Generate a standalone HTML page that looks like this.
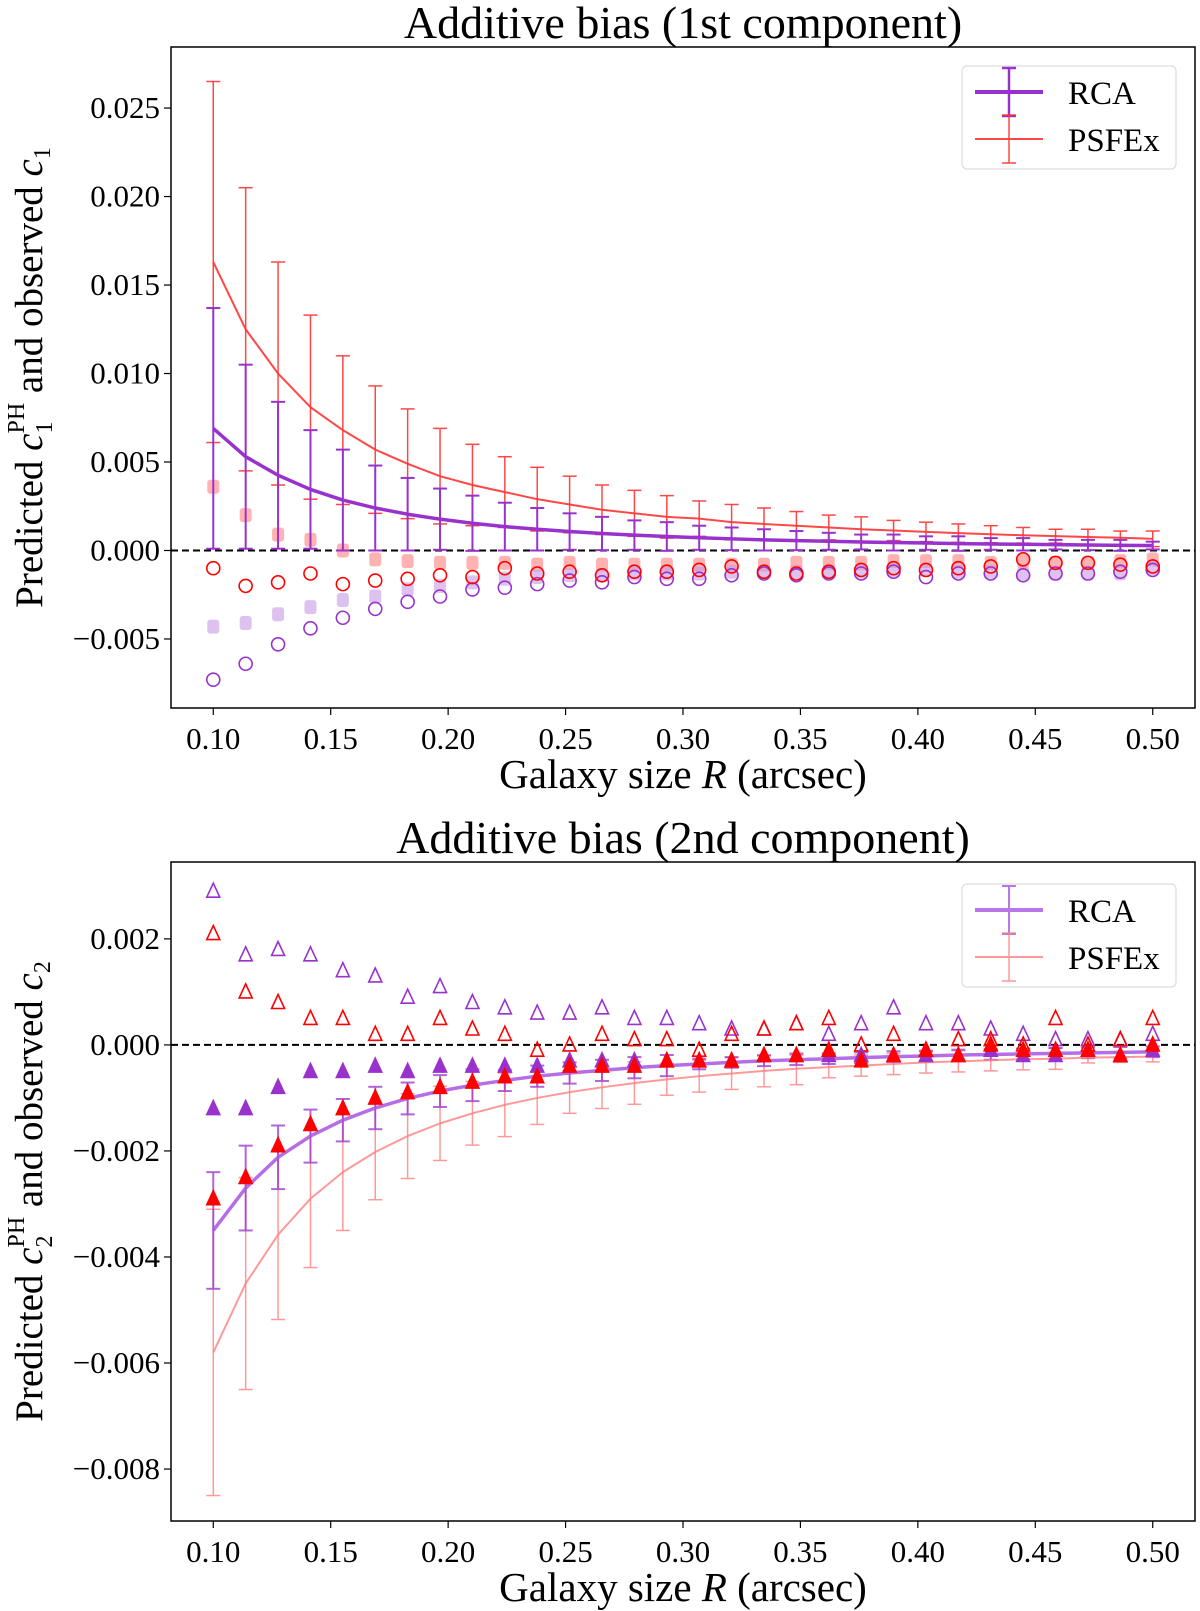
<!DOCTYPE html>
<html><head><meta charset="utf-8"><style>
html,body{margin:0;padding:0;background:#fff;}
svg{display:block;font-family:"Liberation Serif","DejaVu Serif",serif;}
</style></head><body>
<svg id="fig" width="1200" height="1611" viewBox="0 0 1200 1611" xmlns="http://www.w3.org/2000/svg"></svg>
<script>
const xs = Array.from({length:30},(_, i)=>0.1+i*0.4/29);
const xTicks = [0.10,0.15,0.20,0.25,0.30,0.35,0.40,0.45,0.50];
// top panel
const top_psfLine=[0.0163,0.0125,0.0100,0.0081,0.0068,0.0057,0.0049,0.0042,0.0037,0.0033,0.0029,0.0026,0.0023,0.0021,0.0019,0.0018,0.0016,0.0015,0.0014,0.0013,0.0012,0.00113,0.00105,0.00098,0.00092,0.00086,0.00081,0.00076,0.00072,0.00066];
const top_psfUpper=[0.0265,0.0205,0.0163,0.0133,0.0110,0.0093,0.0080,0.0069,0.0060,0.0053,0.0047,0.0042,0.0037,0.0034,0.0031,0.0028,0.0026,0.0024,0.0022,0.0020,0.0019,0.0017,0.0016,0.0015,0.0014,0.0013,0.0012,0.0012,0.0011,0.0011];
const top_rcaLine=[0.0069,0.0053,0.00425,0.00345,0.00285,0.0024,0.00205,0.00177,0.00154,0.00135,0.0012,0.00107,0.00096,0.00087,0.00079,0.00072,0.00066,0.00060,0.00056,0.00052,0.00048,0.00045,0.00042,0.00039,0.00037,0.00035,0.00033,0.00031,0.00029,0.00028];
const top_rcaUpper=[0.0137,0.0105,0.0084,0.0068,0.0057,0.0048,0.0041,0.0035,0.0031,0.0027,0.0024,0.0021,0.0019,0.0017,0.0016,0.0014,0.0013,0.0012,0.0011,0.0010,0.0009,0.0009,0.0008,0.0008,0.0007,0.0007,0.0006,0.0006,0.0006,0.0005];
const top_psfObs=[-0.0010,-0.0020,-0.0018,-0.0013,-0.0019,-0.0017,-0.0016,-0.0014,-0.0015,-0.0010,-0.0013,-0.0012,-0.0014,-0.0012,-0.0012,-0.0011,-0.0009,-0.0012,-0.0013,-0.0012,-0.0011,-0.0010,-0.0011,-0.0010,-0.0009,-0.0005,-0.0007,-0.0007,-0.0008,-0.0009];
const top_rcaObs=[-0.0073,-0.0064,-0.0053,-0.0044,-0.0038,-0.0033,-0.0029,-0.0026,-0.0022,-0.0021,-0.0019,-0.0017,-0.0018,-0.0015,-0.0016,-0.0016,-0.0014,-0.0013,-0.0014,-0.0013,-0.0013,-0.0012,-0.0015,-0.0013,-0.0013,-0.0014,-0.0013,-0.0013,-0.0012,-0.0011];
const top_psfTrue=[0.0036,0.0020,0.0009,0.0006,0.0000,-0.0005,-0.0006,-0.0007,-0.0007,-0.0007,-0.0008,-0.0007,-0.0008,-0.0008,-0.0008,-0.0008,-0.0008,-0.0008,-0.0007,-0.0007,-0.0007,-0.0006,-0.0006,-0.0006,-0.0007,-0.0006,-0.0007,-0.0007,-0.0006,-0.0005];
const top_rcaTrue=[-0.0043,-0.0041,-0.0036,-0.0032,-0.0028,-0.0026,-0.0022,-0.0020,-0.0018,-0.0016,-0.0015,-0.0014,-0.0014,-0.0013,-0.0013,-0.0013,-0.0012,-0.0012,-0.0012,-0.0012,-0.0012,-0.0011,-0.0011,-0.0012,-0.0012,-0.0013,-0.0013,-0.0013,-0.0013,-0.0010];
const top_yTicks=[-0.005,0.000,0.005,0.010,0.015,0.020,0.025];
// bottom panel
const bot_rcaLine=[-0.00350,-0.00270,-0.00212,-0.00172,-0.00142,-0.00119,-0.00101,-0.00087,-0.00076,-0.00067,-0.00059,-0.00053,-0.00048,-0.00043,-0.00039,-0.00036,-0.00033,-0.00030,-0.00028,-0.00026,-0.00024,-0.00022,-0.00021,-0.00019,-0.00018,-0.00017,-0.00016,-0.00015,-0.00014,-0.00013];
const bot_rcaErr=[0.0011,0.0008,0.0006,0.0005,0.0004,0.0004,0.0003,0.0003,0.0003,0.0002,0.0002,0.0002,0.0002,0.0002,0.0002,0.0001,0.0001,0.0001,0.0001,0.0001,0.0001,0.0001,0.0001,0.0001,0.0001,0.0001,0.0001,0.0001,0.0001,0.0001];
const bot_psfLine=[-0.00580,-0.00450,-0.00358,-0.00290,-0.00240,-0.00202,-0.00172,-0.00148,-0.00129,-0.00113,-0.00100,-0.00089,-0.00080,-0.00072,-0.00065,-0.00059,-0.00054,-0.00049,-0.00045,-0.00042,-0.00039,-0.00036,-0.00033,-0.00031,-0.00029,-0.00027,-0.00026,-0.00024,-0.00023,-0.00022];
const bot_psfErr=[0.0027,0.0020,0.0016,0.0013,0.0011,0.0009,0.0008,0.0007,0.0006,0.0006,0.0005,0.0004,0.0004,0.0004,0.0003,0.0003,0.0003,0.0003,0.0003,0.0002,0.0002,0.0002,0.0002,0.0002,0.0002,0.0002,0.0002,0.0001,0.0001,0.0001];
const bot_rcaObs=[0.0029,0.0017,0.0018,0.0017,0.0014,0.0013,0.0009,0.0011,0.0008,0.0007,0.0006,0.0006,0.0007,0.0005,0.0005,0.0004,0.0003,0.0003,0.0004,0.0002,0.0004,0.0007,0.0004,0.0004,0.0003,0.0002,0.0001,0.0001,0.0001,0.0002];
const bot_psfObs=[0.0021,0.0010,0.0008,0.0005,0.0005,0.0002,0.0002,0.0005,0.0003,0.0002,-0.0001,0.0000,0.0002,0.0001,0.0001,-0.0001,0.0002,0.0003,0.0004,0.0005,0.0000,0.0002,-0.0001,0.0001,0.0001,0.0000,0.0005,0.0000,0.0001,0.0005];
const bot_rcaTrue=[-0.0012,-0.0012,-0.0008,-0.0005,-0.0005,-0.0004,-0.0005,-0.0004,-0.0004,-0.0004,-0.0004,-0.0003,-0.0003,-0.0003,-0.0003,-0.0003,-0.0003,-0.0002,-0.0002,-0.0002,-0.0002,-0.0002,-0.0002,-0.0002,-0.0001,-0.0002,-0.0002,-0.0001,-0.0002,-0.0001];
const bot_psfTrue=[-0.0029,-0.0025,-0.0019,-0.0015,-0.0012,-0.0010,-0.0009,-0.0008,-0.0007,-0.0006,-0.0006,-0.0004,-0.0004,-0.0004,-0.0003,-0.0003,-0.0003,-0.0002,-0.0002,-0.0001,-0.0003,-0.0002,-0.0001,-0.0002,0.0000,-0.0001,-0.0001,-0.0001,-0.0002,0.0000];
const bot_yTicks=[-0.008,-0.006,-0.004,-0.002,0.000,0.002];

const NS="http://www.w3.org/2000/svg";
const svg=document.getElementById('fig');
function el(tag,attrs,parent){const e=document.createElementNS(NS,tag);for(const k in attrs)e.setAttribute(k,attrs[k]);(parent||svg).appendChild(e);return e;}
function fmt(v,d){const s=Math.abs(v).toFixed(d);return (v<-1e-12?'\u2212':'')+s;}
const PUR='#9932cc', RED='#ff0000';

function panel(cfg){
  const L=171,R=1195,T=cfg.top,B=cfg.bottom;
  const g=el('g',{});
  
  
  const X=v=>L+(v-0.082)/(0.518-0.082)*(R-L);
  const Y=v=>B-(v-cfg.ymin)/(cfg.ymax-cfg.ymin)*(B-T);
  const t=el('text',{x:(L+R)/2,y:T-9,'text-anchor':'middle','font-size':46},g);t.textContent=cfg.title;
  
  xTicks.forEach(v=>{el('line',{x1:X(v),x2:X(v),y1:B,y2:B+7,stroke:'#000','stroke-width':1.2},g);
    const tt=el('text',{x:X(v),y:B+41,'text-anchor':'middle','font-size':31},g);tt.textContent=v.toFixed(2);
    });
  cfg.yTicks.forEach(v=>{el('line',{x1:L-7,x2:L,y1:Y(v),y2:Y(v),stroke:'#000','stroke-width':1.2},g);
    const tt=el('text',{x:L-11,y:Y(v)+10,'text-anchor':'end','font-size':31},g);tt.textContent=fmt(v,3);
    });
  const xl=el('text',{x:(L+R)/2,y:B+80,'text-anchor':'middle','font-size':41},g);
  xl.innerHTML='Galaxy size <tspan font-style="italic">R</tspan> (arcsec)';
  
  const yl=el('text',{x:0,y:0,'text-anchor':'middle','font-size':39,transform:`translate(42,${(T+B)/2}) rotate(-90)`},g);
  yl.innerHTML=`Predicted <tspan font-style="italic">c</tspan><tspan font-size="24" dy="10">${cfg.idx}</tspan><tspan font-size="24" dy="-28" dx="-12">PH</tspan><tspan dy="18"> and observed </tspan><tspan font-style="italic">c</tspan><tspan font-size="24" dy="8">${cfg.idx}</tspan>`;
  
  el('line',{x1:L,x2:R,y1:Y(0),y2:Y(0),stroke:'#000','stroke-width':2,'stroke-dasharray':'7,4'},g);
  cfg.draw(X,Y,g);
  el('rect',{x:L,y:T,width:R-L,height:B-T,fill:'none',stroke:'#000','stroke-width':1.5},g);
  const lg=el('g',{},g);
  const ly=cfg.legTop;
  el('rect',{x:962,y:ly,width:214,height:103,rx:5,fill:'#fff',stroke:'#ddd','stroke-width':1.2},lg);
  cfg.legend.forEach((it,i)=>{const cy=ly+26+i*47;
    const e=el('g',{opacity:it.op},lg);
    el('line',{x1:975,x2:1043,y1:cy,y2:cy,stroke:it.c,'stroke-width':it.w},e);
    el('line',{x1:1009,x2:1009,y1:cy-24,y2:cy+24,stroke:it.c,'stroke-width':it.ew},e);
    el('line',{x1:1002,x2:1016,y1:cy-24,y2:cy-24,stroke:it.c,'stroke-width':it.ew},e);
    el('line',{x1:1002,x2:1016,y1:cy+24,y2:cy+24,stroke:it.c,'stroke-width':it.ew},e);
    const tx=el('text',{x:1068,y:cy+12,'font-size':33,fill:'#000'},lg);tx.textContent=it.label;});
}
function errbars(X,Y,g,c,mean,lo,hi,w,op,name){
  const gg=el('g',{opacity:op},g);
  xs.forEach((x,i)=>{const px=X(x);
    el('line',{x1:px,x2:px,y1:Y(lo[i]),y2:Y(hi[i]),stroke:c,'stroke-width':w},gg);
    el('line',{x1:px-7,x2:px+7,y1:Y(lo[i]),y2:Y(lo[i]),stroke:c,'stroke-width':w},gg);
    el('line',{x1:px-7,x2:px+7,y1:Y(hi[i]),y2:Y(hi[i]),stroke:c,'stroke-width':w},gg);});
  return gg;
}
function line(X,Y,g,c,vals,w,op,name){
  const p=el('polyline',{points:xs.map((x,i)=>X(x)+','+Y(vals[i])).join(' '),fill:'none',stroke:c,'stroke-width':w,opacity:op,'stroke-linejoin':'round'},g);
  
}
function markers(X,Y,g,vals,kind,c,fill,op,name){
  const gg=el('g',{opacity:op},g);
  xs.forEach((x,i)=>{const px=X(x),py=Y(vals[i]);
    if(kind==='o')el('circle',{cx:px,cy:py,r:6.5,fill:fill?c:'none',stroke:c,'stroke-width':1.6},gg);
    else if(kind==='s')el('rect',{x:px-6,y:py-7,width:12,height:14,rx:3,fill:c},gg);
    else el('polygon',{points:`${px},${py-8} ${px-6.5},${py+6} ${px+6.5},${py+6}`,fill:fill?c:'none',stroke:c,'stroke-width':1.6},gg);});
}
panel({name:'top-panel',title:'Additive bias (1st component)',idx:'1',top:47,bottom:708,ymin:-0.0089,ymax:0.02845,yTicks:top_yTicks,legTop:66,
  legend:[{label:'RCA',c:PUR,w:4,ew:2.5,op:1},{label:'PSFEx',c:'#ff3333',w:2,ew:1.5,op:0.9}],
  draw:(X,Y,g)=>{
    markers(X,Y,g,top_psfTrue,'s','#ff8080',true,0.6,'psfex-true-c1');
    markers(X,Y,g,top_rcaTrue,'s','#c89be6',true,0.6,'rca-true-c1');
    errbars(X,Y,g,'#ff3333',top_psfLine,top_psfLine.map((m,i)=>2*m-top_psfUpper[i]),top_psfUpper,1.5,0.9,'psfex-errorbars');
    errbars(X,Y,g,PUR,top_rcaLine,top_rcaLine.map((m,i)=>2*m-top_rcaUpper[i]),top_rcaUpper,2,1,'rca-errorbars');
    line(X,Y,g,'#ff3333',top_psfLine,2,0.9,'psfex-predicted-line');
    line(X,Y,g,PUR,top_rcaLine,3.5,1,'rca-predicted-line');
    markers(X,Y,g,top_rcaObs,'o',PUR,false,1,'rca-observed-c1');
    markers(X,Y,g,top_psfObs,'o',RED,false,1,'psfex-observed-c1');
  }});
panel({name:'bottom-panel',title:'Additive bias (2nd component)',idx:'2',top:862,bottom:1521,ymin:-0.00898,ymax:0.00345,yTicks:bot_yTicks,legTop:884,
  legend:[{label:'RCA',c:'#a855e0',w:4,ew:2,op:0.8},{label:'PSFEx',c:'#ff8080',w:2,ew:1.5,op:0.8}],
  draw:(X,Y,g)=>{
    errbars(X,Y,g,'#ff8080',bot_psfLine,bot_psfLine.map((m,i)=>m-bot_psfErr[i]),bot_psfLine.map((m,i)=>m+bot_psfErr[i]),1.5,0.8,'psfex-errorbars');
    errbars(X,Y,g,PUR,bot_rcaLine,bot_rcaLine.map((m,i)=>m-bot_rcaErr[i]),bot_rcaLine.map((m,i)=>m+bot_rcaErr[i]),2,0.75,'rca-errorbars');
    line(X,Y,g,'#ff8080',bot_psfLine,2,0.8,'psfex-predicted-line');
    line(X,Y,g,'#a855e0',bot_rcaLine,3.5,0.85,'rca-predicted-line');
    markers(X,Y,g,bot_rcaObs,'^',PUR,false,1,'rca-observed-c2');
    markers(X,Y,g,bot_psfObs,'^',RED,false,1,'psfex-observed-c2');
    markers(X,Y,g,bot_rcaTrue,'^',PUR,true,1,'rca-true-c2');
    markers(X,Y,g,bot_psfTrue,'^',RED,true,1,'psfex-true-c2');
  }});
</script>
</body></html>
